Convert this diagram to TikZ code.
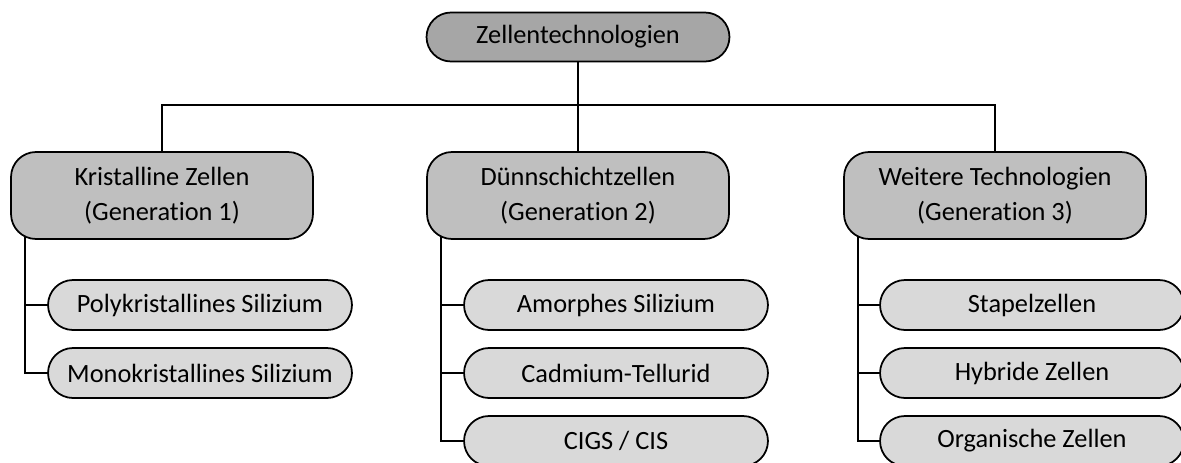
\documentclass[tikz,border=0pt]{standalone}
\usepackage{fontspec}
\setmainfont{Carlito}[Ligatures=NoCommon]
\usetikzlibrary{shapes.misc,backgrounds}

\tikzset{
  topbox/.style={rounded rectangle,draw,line width=1pt,fill=topgray,
    minimum width=6.06cm,minimum height=0.98cm,inner sep=0pt},
  genbox/.style={rectangle,rounded corners=0.5cm,draw,line width=1pt,fill=gengray,
    minimum width=6.04cm,minimum height=1.74cm,inner sep=0pt,align=center},
  cellbox/.style={rounded rectangle,draw,line width=1pt,fill=cellgray,
    minimum width=6.08cm,minimum height=1cm,inner sep=0pt},
  link/.style={line width=1pt}
}
\definecolor{topgray}{HTML}{A6A6A6}
\definecolor{gengray}{HTML}{BFBFBF}
\definecolor{cellgray}{HTML}{D9D9D9}

\begin{document}
\begin{tikzpicture}[x=0.02cm,y=-0.02cm,font=\fontsize{15}{19.9}\selectfont]
\useasboundingbox (0,0) rectangle (1181,463);
\node[topbox] (top) at (578,37) {Zellentechnologien};
\node[genbox] (g1) at (162,195.5) {Kristalline Zellen\\(Generation 1)};
\node[genbox] (g2) at (578,195.5) {Dünnschichtzellen\\(Generation 2)};
\node[genbox] (g3) at (995,195.5) {Weitere Technologien\\(Generation 3)};
% Generation 1
\node[cellbox] (c11) at (200,305) {Polykristallines Silizium};
\node[cellbox] (c12) at (200,373) {Monokristallines Silizium};
% Generation 2
\node[cellbox] (c21) at (616,305) {Amorphes Silizium};
\node[cellbox] (c22) at (616,373) {Cadmium-Tellurid};
\node[cellbox] (c23) at (616,441) {CIGS / CIS};
% Generation 3
\node[cellbox] (c31) at (1032,305) {Stapelzellen};
\node[cellbox] (c32) at (1032,373) {Hybride Zellen};
\node[cellbox] (c33) at (1032,441) {Organische Zellen};
\coordinate (bus) at (578,105);
\coordinate (t1) at ([xshift=0.3cm,yshift=0.2cm]g1.south west);
\coordinate (t2) at ([xshift=0.3cm,yshift=0.2cm]g2.south west);
\coordinate (t3) at ([xshift=0.3cm,yshift=0.2cm]g3.south west);
\begin{scope}[on background layer]
\draw[link] (top.south) -- (g2.north);
\draw[link] (g1.north) |- (bus) -| (g3.north);
\draw[link] (t1) |- (c12.west);
\draw[link] (t1 |- c11.west) -- (c11.west);
\draw[link] (t2) |- (c23.west);
\draw[link] (t2 |- c21.west) -- (c21.west);
\draw[link] (t2 |- c22.west) -- (c22.west);
\draw[link] (t3) |- (c33.west);
\draw[link] (t3 |- c31.west) -- (c31.west);
\draw[link] (t3 |- c32.west) -- (c32.west);
\end{scope}
\end{tikzpicture}
\end{document}
